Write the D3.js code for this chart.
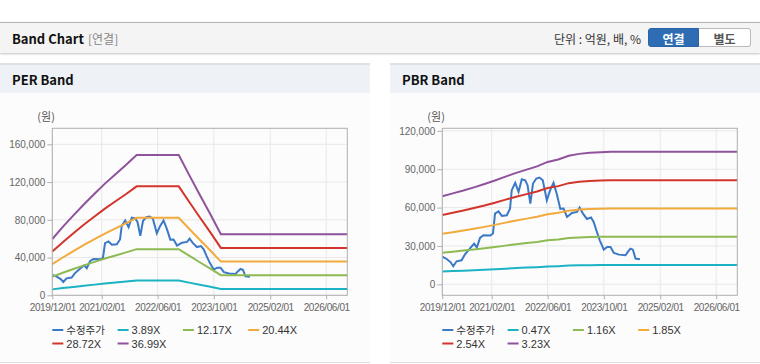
<!DOCTYPE html>
<html>
<head>
<meta charset="utf-8">
<script src="https://cdn.jsdelivr.net/npm/d3@7"></script>
<style>
  body { margin: 0; width: 760px; height: 364px; overflow: hidden; background: #fff;
         font-family: "Noto Sans CJK KR", "Liberation Sans", sans-serif; position: relative; }
  .topbar { position: absolute; left: 0; top: 22px; width: 760px; height: 30px; background: #f4f4f4;
            border-top: 1px solid #b4b4b4; box-shadow: 0 1px 2px rgba(0,0,0,0.25); }
  .topbar .title { position: absolute; left: 12px; top: 6px; font-size: 13px; font-weight: bold; color: #111; }
  .topbar .sub { position: absolute; left: 88px; top: 7px; font-size: 12px; color: #888; }
  .topbar .unit { position: absolute; right: 119px; top: 7px; font-size: 12px; color: #333; }
  .btn { position: absolute; top: 5px; height: 19px; width: 51px; font-size: 12px; font-weight: bold;
         text-align: center; line-height: 19px; box-sizing: border-box; }
  .btn.on { left: 648px; background: #2e6db4; color: #fff; border: 1px solid #2a64a8; border-radius: 3px 0 0 3px; }
  .btn.off { left: 699px; width: 52px; background: #fff; color: #555; border: 1px solid #bbb; border-left: none; border-radius: 0 3px 3px 0; }
  .panel { position: absolute; top: 63px; width: 370px; height: 299px; background: #fcfcfc; border-bottom: 1px solid #ddd; }
  .panel .head { height: 28px; background: #eef2f7; border-top: 2px solid #dde1e6; }
  .panel .head span { position: absolute; left: 12px; top: 7px; font-size: 13px; font-weight: bold; color: #111; }
  svg { position: absolute; left: 0; top: 0; }
</style>
</head>
<body>
<div class="topbar">
  <span class="title">Band Chart</span><span class="sub">[연결]</span>
  <span class="unit">단위 : 억원, 배, %</span>
  <div class="btn on">연결</div><div class="btn off">별도</div>
</div>
<div class="panel" style="left:0"><div class="head"><span>PER Band</span></div></div>
<div class="panel" style="left:390px"><div class="head"><span>PBR Band</span></div></div>
<svg id="chart" width="760" height="364"></svg>
<script>
// 수정주가
const priceDates = ["2019-12-01","2020-01-08","2020-02-12","2020-03-05","2020-04-03","2020-05-16","2020-06-15","2020-07-13","2020-08-12","2020-09-02",
  "2020-09-25","2020-10-24","2020-11-22","2021-01-20","2021-02-12","2021-03-02","2021-04-01","2021-04-30","2021-06-12","2021-07-10",
  "2021-07-25","2021-08-24","2021-09-22","2021-10-20","2021-11-19","2021-12-09","2022-01-02","2022-01-25","2022-02-23","2022-03-22",
  "2022-04-20","2022-05-25","2022-06-23","2022-07-22","2022-08-20","2022-09-19","2022-10-17","2022-11-16","2022-12-29","2023-02-11",
  "2023-03-05","2023-04-03","2023-05-08","2023-06-12","2023-07-05","2023-07-28","2023-08-27","2023-10-01","2023-10-30","2023-11-28",
  "2023-12-27","2024-02-09","2024-04-06","2024-04-26","2024-05-19","2024-06-09","2024-07-02","2024-08-09"];
const priceValues = [21700,19800,17200,14100,18000,18800,23500,26600,29700,31800,
  28700,36500,38400,38100,39700,55300,57100,53500,54000,59200,
  73600,79300,72300,82200,81400,77500,63100,78800,82700,83500,
  81400,65700,73600,79300,70400,59000,59200,52700,55800,56600,
  60000,55300,51100,52200,48800,42300,34400,27100,29200,29200,
  24500,23200,22700,25300,27900,27100,20100,19600];

// 밴드 기준 (EPS / BPS)
const bandDates = ["2019-12-01","2020-03-01","2020-06-01","2020-09-01","2020-12-01","2021-03-01","2021-06-01","2021-09-01","2021-12-01",
  "2022-03-01","2022-06-01","2022-09-01","2022-12-01","2023-03-01","2023-06-01","2023-09-01","2023-12-01","2026-12-01"];
const perEps = [1614,1960,2290,2610,2910,3200,3470,3740,4020,4020,4020,4020,4020,3450,2880,2320,1749,1749];
const pbrBps = [21330,22020,22710,23470,24270,25120,26080,26980,27770,28560,29630,30230,31140,31580,31830,31980,32070,32070];
const perMultiples = [3.89, 12.17, 20.44, 28.72, 36.99];
const pbrMultiples = [0.47, 1.16, 1.85, 2.54, 3.23];

const xTickDates = ["2019-12-01","2021-02-01","2022-06-01","2023-10-01","2025-02-01","2026-06-01"];
const perTicks = [0, 40000, 80000, 120000, 160000];
const pbrTicks = [0, 30000, 60000, 90000, 120000];

const colors = ["#3b78c6", "#1bb3c4", "#8dba52", "#f2aa3c", "#d2352b", "#8f529c"];
const parse = d3.timeParse("%Y-%m-%d");
const svg = d3.select("#chart");

function drawBand(left, yDomain, ticks, base, multiples) {
  const top = 128.3, bottom = 295.3, right = left + 295;
  const x = d3.scaleTime().domain([parse("2019-12-01"), parse("2026-12-01")]).range([left, right]);
  const y = d3.scaleLinear().domain(yDomain).range([bottom, top]);
  const g = svg.append("g");

  // 그리드
  g.selectAll(".gy").data(ticks).enter().append("line")
    .attr("x1", left).attr("x2", right).attr("y1", d => y(d)).attr("y2", d => y(d))
    .attr("stroke", "#e8e8e8");
  g.selectAll(".gx").data(xTickDates).enter().append("line")
    .attr("x1", d => x(parse(d))).attr("x2", d => x(parse(d))).attr("y1", top).attr("y2", bottom)
    .attr("stroke", "#e8e8e8");

  // 수정주가
  const line = d3.line().x(d => x(d[0])).y(d => y(d[1]));
  g.append("path")
    .attr("d", line(priceDates.map((d, i) => [parse(d), priceValues[i]])))
    .attr("fill", "none").attr("stroke", colors[0]).attr("stroke-width", 2);

  // 밴드
  multiples.forEach((m, k) => {
    g.append("path")
      .attr("d", line(bandDates.map((d, i) => [parse(d), base[i] * m])))
      .attr("fill", "none").attr("stroke", colors[k + 1]).attr("stroke-width", 2);
  });

  // 테두리
  g.append("rect").attr("x", left).attr("y", top).attr("width", right - left).attr("height", bottom - top)
    .attr("fill", "none").attr("stroke", "#b0b0b0");

  // Y축
  const ya = g.append("g").attr("transform", `translate(${left},0)`)
    .call(d3.axisLeft(y).tickValues(ticks).tickSize(5).tickFormat(d3.format(",")));
  // X축
  const xa = g.append("g").attr("transform", `translate(0,${bottom})`)
    .call(d3.axisBottom(x).tickValues(xTickDates.map(parse)).tickSize(4).tickPadding(5)
      .tickFormat(d3.timeFormat("%Y/%m/%d")));
  [ya, xa].forEach(a => {
    a.select(".domain").remove();
    a.selectAll("line").attr("stroke", "#b0b0b0");
    a.selectAll("text").attr("fill", "#666").style("font-size", "10px").style("font-family", "Liberation Sans, sans-serif");
  });
  ya.selectAll("text").attr("x", -7);
  xa.selectAll("text").style("letter-spacing", "-0.4px");

  g.append("text").attr("x", left - 15).attr("y", 121).attr("fill", "#555")
    .style("font-size", "11px").text("(원)");

  // 범례
  const labels = ["수정주가"].concat(multiples.map(m => m.toFixed(2) + "X"));
  labels.forEach((t, i) => {
    const lx = left + (i % 4) * 65.3, ly = i < 4 ? 330 : 343.5;
    g.append("line").attr("x1", lx).attr("x2", lx + 11).attr("y1", ly).attr("y2", ly)
      .attr("stroke", colors[i]).attr("stroke-width", 2);
    g.append("text").attr("x", lx + 14).attr("y", ly + 4).attr("fill", "#333")
      .style("font-family", i === 0 ? "Noto Sans CJK KR, sans-serif" : "Liberation Sans, sans-serif")
      .style("font-size", i === 0 ? "10.5px" : "11px").text(t);
  });
}

drawBand(52.3, [0, 177000], perTicks, perEps, perMultiples);
drawBand(442.3, [-8600, 122000], pbrTicks, pbrBps, pbrMultiples);
</script>
</body>
</html>
